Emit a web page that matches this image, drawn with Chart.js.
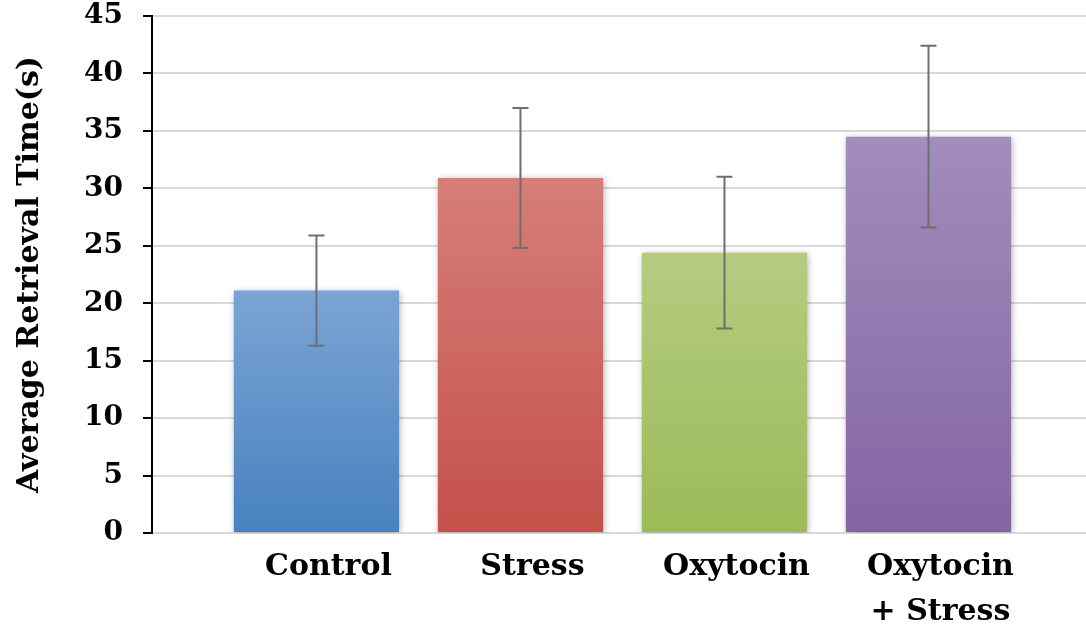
<!DOCTYPE html>
<html>
<head>
<meta charset="utf-8">
<script src="https://cdn.jsdelivr.net/npm/chart.js@4.4.1/dist/chart.umd.min.js"></script>
<style>
    html, body { margin: 0; padding: 0; background: #fff; }
    #wrap { width: 1086px; height: 629px; }
</style>
</head>
<body>
<div id="wrap"><canvas id="retrievalChart" width="1086" height="629"></canvas></div>
<script>
// Chart data
const groups = ["Control", "Stress", "Oxytocin", ["Oxytocin", "+ Stress"]];
const meanTimes = [21.1, 30.9, 24.4, 34.5];
const stdErrors = [4.8, 6.1, 6.6, 7.9];
const yTicks = [0, 5, 10, 15, 20, 25, 30, 35, 40, 45];

// top / bottom colours of each bar gradient
const topColors = ["#7ba4d4", "#d67e79", "#b4cc81", "#a28dbb"];
const bottomColors = ["#4782c0", "#c5504a", "#9cbb58", "#8465a3"];

const FONT = "'DejaVu Serif', serif";

function barGradient(context) {
    const chart = context.chart;
    const i = context.dataIndex;
    if (!chart.chartArea || i === undefined) return topColors[i || 0];
    const y = chart.scales.y;
    const g = chart.ctx.createLinearGradient(0, y.getPixelForValue(meanTimes[i]), 0, y.getPixelForValue(0));
    g.addColorStop(0, topColors[i]);
    g.addColorStop(1, bottomColors[i]);
    return g;
}

// soft shadow under bars
const barShadow = {
    id: "barShadow",
    beforeDatasetsDraw(chart) {
        const ctx = chart.ctx;
        ctx.save();
        ctx.shadowColor = "rgba(0,0,0,0.35)";
        ctx.shadowBlur = 7;
        ctx.shadowOffsetX = 1;
        ctx.shadowOffsetY = 1;
    },
    afterDatasetsDraw(chart) {
        chart.ctx.restore();
    }
};

// error bars from stdErrors
const errorBars = {
    id: "errorBars",
    afterDatasetsDraw(chart) {
        const ctx = chart.ctx;
        const y = chart.scales.y;
        const meta = chart.getDatasetMeta(0);
        ctx.save();
        ctx.strokeStyle = "#6e6e6e";
        ctx.lineWidth = 2;
        meta.data.forEach((bar, i) => {
            const top = y.getPixelForValue(meanTimes[i] + stdErrors[i]);
            const bottom = y.getPixelForValue(meanTimes[i] - stdErrors[i]);
            ctx.beginPath();
            ctx.moveTo(bar.x, top);
            ctx.lineTo(bar.x, bottom);
            ctx.moveTo(bar.x - 8, top);
            ctx.lineTo(bar.x + 8, top);
            ctx.moveTo(bar.x - 8, bottom);
            ctx.lineTo(bar.x + 8, bottom);
            ctx.stroke();
        });
        ctx.restore();
    }
};

new Chart(document.getElementById("retrievalChart"), {
    type: "bar",
    data: {
        datasets: [{
            data: meanTimes.map((v, i) => ({ x: i, y: v })),
            backgroundColor: barGradient,
            borderWidth: 0,
            barPercentage: 0.81,
            categoryPercentage: 1
        }]
    },
    options: {
        responsive: false,
        animation: false,
        devicePixelRatio: 1,
        layout: { padding: 0 },
        plugins: {
            legend: { display: false },
            tooltip: { enabled: false }
        },
        scales: {
            x: {
                type: "linear",
                offset: false,
                min: -0.806,
                max: 3.772,
                grid: { display: false, offset: false },
                border: { display: false },
                afterBuildTicks: scale => {
                    scale.ticks = groups.map((g, i) => ({ value: i }));
                },
                afterFit: scale => { scale.height = 96; },
                ticks: {
                    autoSkip: false,
                    maxRotation: 0,
                    padding: 4,
                    labelOffset: 12,
                    color: "#000",
                    font: { family: FONT, size: 30, weight: "bold", lineHeight: 1.5 },
                    callback: value => groups[value]
                }
            },
            y: {
                min: 0,
                max: 45,
                afterBuildTicks: scale => {
                    scale.ticks = yTicks.map(v => ({ value: v }));
                },
                afterFit: scale => {
                    scale.width = 152;
                    scale.paddingTop = 16;
                    scale.paddingBottom = 0;
                },
                grid: {
                    color: "#d9d9d9",
                    lineWidth: 2,
                    tickColor: "#000",
                    tickLength: 9
                },
                border: { color: "#000", width: 2 },
                ticks: {
                    padding: 20,
                    color: "#000",
                    font: { family: FONT, size: 28, weight: "bold" }
                },
                title: {
                    display: true,
                    text: "Average Retrieval Time(s)",
                    color: "#000",
                    padding: { top: 12, bottom: 0 },
                    font: { family: FONT, size: 30, weight: "bold" }
                }
            }
        }
    },
    plugins: [barShadow, errorBars]
});
</script>
</body>
</html>
